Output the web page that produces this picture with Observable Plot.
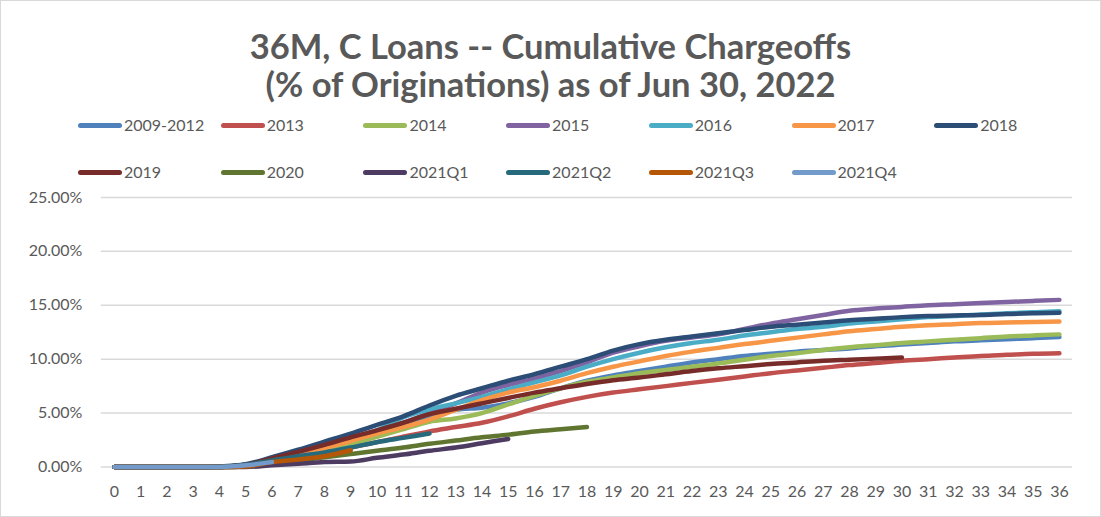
<!DOCTYPE html>
<html>
<head>
<meta charset="utf-8">
<script src="https://cdn.jsdelivr.net/npm/d3@7"></script>
<script src="https://cdn.jsdelivr.net/npm/@observablehq/plot@0.6"></script>
<style>
  html, body { margin: 0; padding: 0; background: #fff; }
  #chart { position: relative; width: 1101px; height: 517px; box-sizing: border-box; border: 1px solid #d9d9d9; background: #fff; overflow: hidden; font-family: Lato, "Open Sans", sans-serif; color: #595959; }
  #title { position: absolute; left: 0; top: 26px; width: 100%; text-align: center; font-weight: bold; font-size: 34.5px; line-height: 38px; color: #595959; }
  .leg { position: absolute; height: 20px; line-height: 20px; font-size: 16px; color: #595959; white-space: nowrap; }
  .sw { position: absolute; left: 0; top: 8px; width: 44px; height: 5px; border-radius: 3px; }
  .lt { position: absolute; left: 46px; top: 0; }
  #plot { position: absolute; left: 0; top: 180px; }
</style>
</head>
<body>
<div id="chart">
  <div id="title">36M, C Loans -- Cumulative Chargeoffs<br>(% of Originations) as of Jun 30, 2022</div>
  <div id="legend"></div>
  <div id="plot"></div>
</div>
<script>
// Month on book (x axis categories)
const months = d3.range(0, 37);
// Y axis ticks (percent)
const yTicks = [0, 5, 10, 15, 20, 25];

// Series names and colours
const seriesNames = ["2009-2012", "2013", "2014", "2015", "2016", "2017", "2018", "2019", "2020", "2021Q1", "2021Q2", "2021Q3", "2021Q4"];
const seriesColors = ["#4F81BD", "#C0504D", "#9BBB59", "#8064A2", "#4BACC6", "#F79646", "#2C4D75", "#772C2A", "#5F7530", "#4D3B62", "#276A7C", "#B65708", "#729ACA"];

// Cumulative chargeoffs, % of originations, by month
const v2009_2012 = [0,0,0,0,0,0.2,0.7,1.2,1.7,2.3,3.0,3.8,4.6,5.3,5.5,5.9,6.5,7.3,8.0,8.5,8.9,9.3,9.7,10.0,10.3,10.5,10.7,10.85,11.0,11.2,11.35,11.5,11.65,11.75,11.85,11.95,12.05];
const v2013 = [0,0,0,0,0,0.1,0.4,0.8,1.3,1.8,2.3,2.8,3.3,3.7,4.1,4.7,5.4,6.0,6.5,6.9,7.2,7.5,7.8,8.1,8.4,8.7,8.95,9.2,9.45,9.65,9.85,10.0,10.15,10.3,10.4,10.5,10.55];
const v2014 = [0,0,0,0,0,0.1,0.4,0.9,1.5,2.1,2.8,3.5,4.2,4.5,5.0,5.8,6.6,7.3,7.9,8.3,8.7,9.0,9.3,9.6,9.95,10.3,10.55,10.85,11.1,11.3,11.5,11.65,11.8,11.95,12.1,12.2,12.3];
const v2015 = [0,0,0,0,0,0.2,0.7,1.3,2.0,2.7,3.4,4.1,5.0,5.9,6.9,7.6,8.2,8.9,9.7,10.6,11.2,11.7,12.0,12.3,12.8,13.3,13.7,14.1,14.5,14.7,14.85,15.0,15.1,15.2,15.3,15.4,15.5];
const v2016 = [0,0,0,0,0,0.2,0.7,1.3,1.9,2.6,3.4,4.6,5.35,5.9,6.5,7.2,7.85,8.5,9.3,10.0,10.6,11.1,11.5,11.8,12.2,12.5,12.8,13.0,13.3,13.5,13.7,13.9,14.0,14.15,14.25,14.35,14.45];
const v2017 = [0,0,0,0,0,0.15,0.5,1.1,1.75,2.4,3.1,3.7,4.4,5.3,6.2,6.9,7.4,8.0,8.7,9.3,9.8,10.3,10.7,11.05,11.4,11.7,12.0,12.3,12.6,12.8,13.0,13.15,13.25,13.35,13.4,13.45,13.5];
const v2018 = [0,0,0,0,0.05,0.25,0.9,1.6,2.35,3.1,3.9,4.7,5.7,6.6,7.3,8.0,8.6,9.3,10.0,10.8,11.4,11.8,12.1,12.4,12.7,13.0,13.2,13.4,13.6,13.75,13.9,14.0,14.05,14.1,14.2,14.25,14.3];
const v2019 = [0,0,0,0,0,0.2,0.8,1.4,2.05,2.75,3.4,4.1,4.9,5.4,5.9,6.4,6.9,7.3,7.7,8.05,8.3,8.6,8.9,9.15,9.35,9.55,9.7,9.85,9.95,10.05,10.15];
const v2020 = [0,0,0,0,0,0.05,0.3,0.6,0.9,1.2,1.5,1.8,2.15,2.45,2.75,3.0,3.3,3.5,3.7];
const v2021Q1 = [0,0,0,0,0,0,0.15,0.3,0.45,0.5,0.85,1.15,1.5,1.8,2.2,2.6];
const v2021Q2 = [0,0,0,0,0,0.2,0.6,1.0,1.35,1.8,2.3,2.7,3.1];
const v2021Q3 = [0,0,0,0,0,0.05,0.45,0.7,1.0,1.55];
const v2021Q4 = [0,0,0,0,0,0.15,0.45];

const seriesValues = [v2009_2012, v2013, v2014, v2015, v2016, v2017, v2018, v2019, v2020, v2021Q1, v2021Q2, v2021Q3, v2021Q4];

const rows = [];
seriesNames.forEach((name, i) => {
  seriesValues[i].forEach((v, m) => rows.push({series: name, month: months[m], value: v}));
});

// Legend
const legend = document.getElementById("legend");
seriesNames.forEach((name, i) => {
  const row = i < 7 ? 0 : 1;
  const col = i < 7 ? i : i - 7;
  const el = document.createElement("div");
  el.className = "leg";
  el.style.left = (77 + 142.7 * col) + "px";
  el.style.top = (row === 0 ? 114 : 161) + "px";
  el.innerHTML = `<div class="sw" style="background:${seriesColors[i]}"></div><div class="lt">${name}</div>`;
  legend.appendChild(el);
});

const chart = Plot.plot({
  width: 1101,
  height: 337,
  marginTop: 16,
  marginBottom: 51,
  marginLeft: 100,
  marginRight: 28,
  style: {fontFamily: "Lato, 'Open Sans', sans-serif", fontSize: "16px", color: "#595959", background: "transparent"},
  x: {domain: [-0.5, 36.5]},
  y: {domain: [0, 25]},
  color: {domain: seriesNames, range: seriesColors},
  marks: [
    Plot.ruleY(yTicks, {stroke: "#d9d9d9", strokeWidth: 1.5}),
    Plot.axisY(yTicks, {tickSize: 0, tickPadding: 19, tickFormat: d => d.toFixed(2) + "%", label: null}),
    Plot.axisX(months, {tickSize: 0, tickPadding: 19, tickFormat: d => String(d), label: null}),
    Plot.line(rows, {x: "month", y: "value", z: "series", stroke: "series", strokeWidth: 4.5, curve: "monotone-x", strokeLinecap: "round", strokeLinejoin: "round"})
  ]
});
document.getElementById("plot").appendChild(chart);
</script>
</body>
</html>
